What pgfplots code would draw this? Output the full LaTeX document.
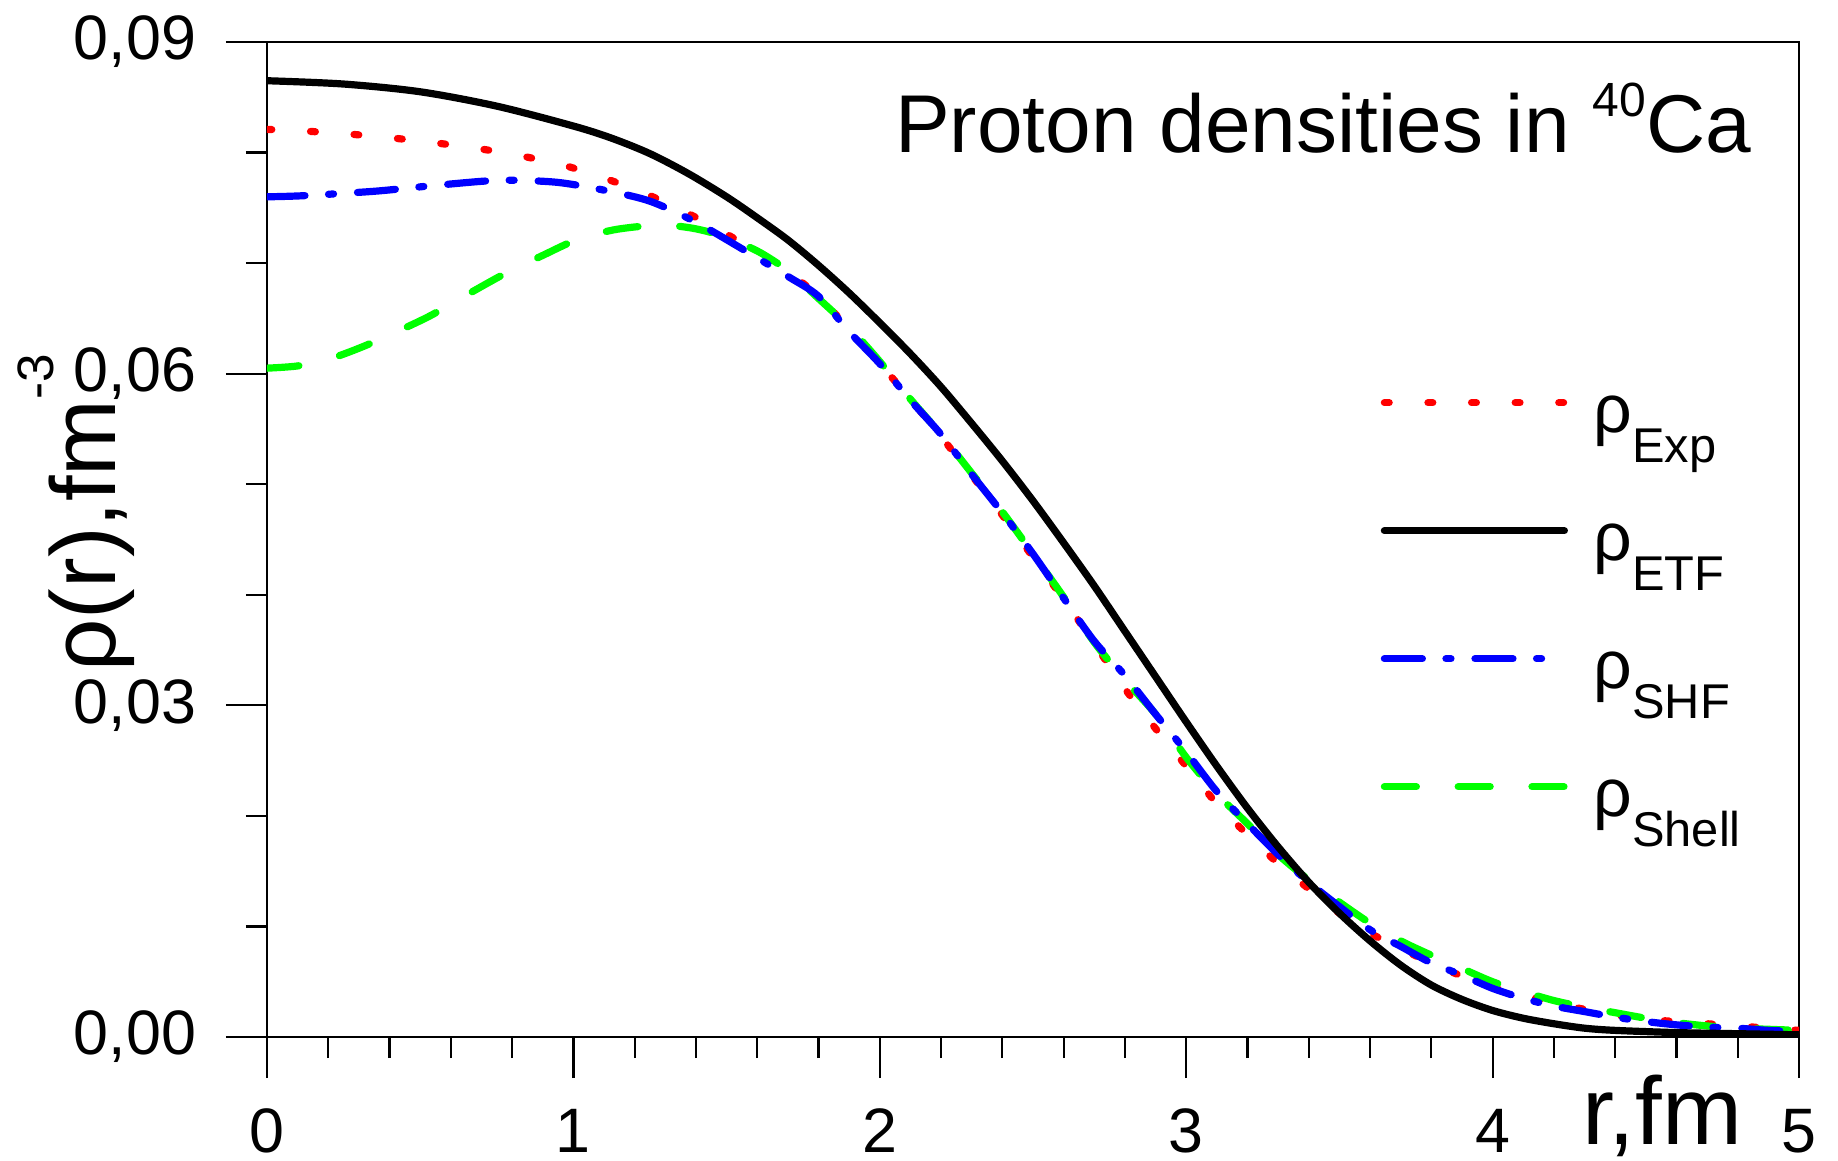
\documentclass[border=0pt]{standalone}
\usepackage{fontspec}
\setmainfont{Liberation Sans}
\usepackage{pgfplots}
\pgfplotsset{compat=1.18}

\definecolor{expred}{RGB}{255,0,0}
\definecolor{shfblue}{RGB}{0,0,255}
\definecolor{shellgreen}{RGB}{0,255,0}

\tikzset{
  expstyle/.style={expred, line width=1.8pt, line cap=round, dash pattern=on 1.2pt off 9.7pt},
  etfstyle/.style={black, line width=1.8pt, line cap=round},
  shfstyle/.style={shfblue, line width=1.8pt, line cap=round, dash pattern=on 9.5pt off 5.9pt on 1.25pt off 6pt},
  shellstyle/.style={shellgreen, line width=1.8pt, line cap=round, dash pattern=on 8pt off 10.45pt},
}
\newcommand{\leg}[1]{{\fontsize{17}{17}\selectfont ρ\raisebox{-7.5pt}{\fontsize{12.2}{12.2}\selectfont #1}}}

\begin{document}
\begin{tikzpicture}
\begin{axis}[
  at={(0,0)}, anchor=south west,
  scale only axis, width=383pt, height=248.75pt,
  xmin=0, xmax=5, ymin=0, ymax=0.09,
  xtick={0,1,2,3,4,5}, xticklabels={0,1,2,3,4,5},
  ytick={0,0.03,0.06,0.09}, yticklabels={{0,00},{0,03},{0,06},{0,09}},
  scaled y ticks=false,
  minor x tick num=4, minor y tick num=2,
  tick align=outside, tick pos=left,
  major tick length=10.25pt, minor tick length=5.25pt,
  every tick/.style={black, line width=0.55pt},
  axis line style={line width=0.55pt},
  ticklabel style={font=\fontsize{15.7}{18}\selectfont, inner sep=0pt},
  yticklabel style={anchor=east, xshift=-7.3pt},
  xticklabel style={anchor=north, yshift=-7.5pt},
  xlabel={r,fm},
  xlabel style={at={(axis description cs:0.9634,-0.1085)}, anchor=base east, inner sep=0pt, font=\fontsize{24}{28}\selectfont},
  ylabel={ρ(r),fm\raisebox{15.5pt}{\fontsize{12.8}{12.8}\selectfont -3}},
  ylabel style={at={(axis description cs:-0.0992,0.527)}, anchor=base, rotate=0, inner sep=0pt, font=\fontsize{23}{28}\selectfont},
  legend image code/.code={\draw[#1] (0pt,7.5pt) -- (45pt,7.5pt);},
  legend style={at={(axis description cs:0.727,0.6596)}, anchor=north west,
    draw=none, fill=none, inner sep=0pt, outer sep=0pt,
    row sep={32pt,between origins}, column sep=6.4pt,
    nodes={inner sep=0pt, text height=13pt, text depth=12pt},
    cells={anchor=base west}},
]
\addlegendimage{expstyle}\addlegendentry{\leg{Exp}}
\addlegendimage{etfstyle}\addlegendentry{\leg{ETF}}
\addlegendimage{shfstyle}\addlegendentry{\leg{SHF}}
\addlegendimage{shellstyle}\addlegendentry{\leg{Shell}}

% rho_Exp
\addplot[expstyle, smooth, forget plot] coordinates {
(0,0.0821)(0.15,0.0819)(0.3,0.0816)(0.45,0.0812)(0.6,0.0807)(0.75,0.0801)
(0.9,0.0793)(1.0,0.0786)(1.15,0.0772)(1.3,0.0755)(1.45,0.0734)(1.6,0.0710)
(1.7,0.0692)(1.8,0.0670)(1.9,0.0640)(2.0,0.0609)(2.1,0.0577)(2.2,0.0543)
(2.3,0.0508)(2.4,0.0472)(2.5,0.0434)(2.6,0.0396)(2.7,0.0356)(2.8,0.0315)
(2.9,0.0279)(3.0,0.0245)(3.1,0.0211)(3.2,0.0183)(3.3,0.0157)(3.4,0.0134)
(3.5,0.0112)(3.6,0.0094)(3.7,0.0080)(3.8,0.0067)(3.9,0.0055)(4.0,0.0045)
(4.1,0.0038)(4.2,0.0031)(4.3,0.0025)(4.4,0.0020)(4.5,0.0016)(4.6,0.0014)
(4.7,0.0012)(4.8,0.0010)(4.9,0.0008)(5.0,0.0006)};

% rho_Shell
\addplot[shellstyle, smooth, forget plot] coordinates {
(0,0.0605)(0.1,0.0607)(0.2,0.0613)(0.3,0.0623)(0.4,0.0635)(0.53,0.0652)
(0.65,0.0671)(0.78,0.0691)(0.9,0.0707)(1.01,0.0721)(1.13,0.0730)(1.25,0.0734)
(1.32,0.0734)(1.4,0.0731)(1.48,0.0725)(1.6,0.0711)(1.7,0.0693)(1.8,0.0668)
(1.9,0.0642)(2.0,0.0611)(2.1,0.0577)(2.2,0.0545)(2.3,0.0510)(2.4,0.0475)
(2.5,0.0437)(2.6,0.0398)(2.7,0.0357)(2.8,0.0323)(2.9,0.0292)(3.0,0.0253)
(3.1,0.0220)(3.2,0.0193)(3.3,0.0165)(3.4,0.0142)(3.5,0.0122)(3.6,0.0103)
(3.7,0.0087)(3.8,0.0074)(3.9,0.0062)(4.0,0.0050)(4.1,0.0041)(4.2,0.0033)
(4.3,0.0027)(4.4,0.0022)(4.5,0.0017)(4.6,0.0013)(4.7,0.0010)(4.8,0.0008)
(4.9,0.0007)(5.0,0.0006)};

% rho_SHF
\addplot[shfstyle, smooth, forget plot] coordinates {
(0,0.0760)(0.12,0.0761)(0.35,0.0765)(0.5,0.0769)(0.7,0.0774)(0.8,0.0775)
(0.95,0.0773)(1.1,0.0766)(1.25,0.0756)(1.4,0.0737)(1.55,0.0713)(1.7,0.0688)
(1.8,0.0670)(1.9,0.0638)(2.0,0.0609)(2.1,0.0576)(2.2,0.0545)(2.3,0.0509)
(2.4,0.0474)(2.5,0.0437)(2.6,0.0397)(2.7,0.0358)(2.8,0.0327)(2.9,0.0292)
(3.0,0.0258)(3.1,0.0222)(3.2,0.0193)(3.3,0.0165)(3.4,0.0140)(3.5,0.0118)
(3.6,0.0097)(3.7,0.0082)(3.8,0.0067)(3.9,0.0056)(4.0,0.0044)(4.1,0.0035)
(4.2,0.0028)(4.3,0.0023)(4.4,0.0018)(4.5,0.0014)(4.6,0.0011)(4.7,0.0009)
(4.8,0.0008)(4.9,0.0006)(5.0,0.0005)};

% rho_ETF
\addplot[etfstyle, smooth, forget plot] coordinates {
(0,0.0865)(0.25,0.0862)(0.5,0.0855)(0.75,0.0842)(1.0,0.0824)(1.125,0.0813)
(1.25,0.0799)(1.375,0.0781)(1.5,0.0760)(1.6,0.0741)(1.7,0.0721)(1.8,0.0698)
(1.9,0.0673)(2.0,0.0646)(2.1,0.0618)(2.2,0.0588)(2.3,0.0555)(2.4,0.0521)
(2.5,0.0485)(2.6,0.0447)(2.7,0.0408)(2.8,0.0367)(2.9,0.0326)(3.0,0.0285)
(3.1,0.0245)(3.2,0.0207)(3.3,0.0172)(3.4,0.0140)(3.5,0.0112)(3.6,0.0087)
(3.7,0.0065)(3.8,0.0047)(3.9,0.0034)(4.0,0.0024)(4.1,0.0017)(4.2,0.0012)
(4.3,0.0008)(4.4,0.0006)(4.6,0.0004)(4.8,0.0003)(5.0,0.0002)};

\node[anchor=base east, inner sep=0pt, font=\fontsize{20.5}{24}\selectfont]
  at (rel axis cs:0.9691,0.8894) {Proton densities in \raisebox{9pt}{\fontsize{12}{12}\selectfont 40}Ca};
\end{axis}
\pgfresetboundingbox
\useasboundingbox (-66.75pt,-30.75pt) rectangle (392.75pt,259.25pt);
\end{tikzpicture}
\end{document}
